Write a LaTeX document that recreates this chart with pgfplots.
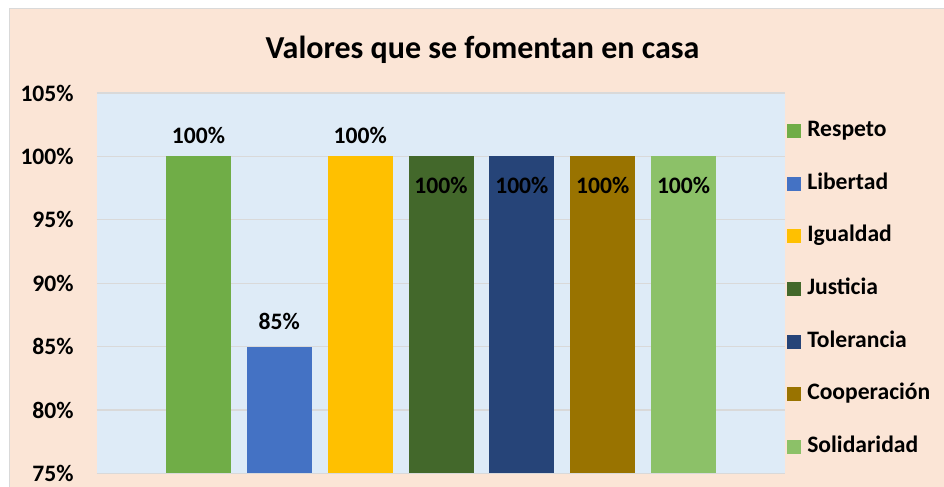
\documentclass[border=0pt]{standalone}
\usepackage{pgfplots}
\pgfplotsset{compat=1.18}
\usepackage{fontspec}
\setmainfont{Carlito}
\definecolor{cRes}{HTML}{70AD47}
\definecolor{cLib}{HTML}{4472C4}
\definecolor{cIgu}{HTML}{FFC000}
\definecolor{cJus}{HTML}{43682B}
\definecolor{cTol}{HTML}{264478}
\definecolor{cCoo}{HTML}{997300}
\definecolor{cSol}{HTML}{8CC168}
\definecolor{peach}{HTML}{FBE5D6}
\definecolor{plotbg}{HTML}{DEEBF7}
\definecolor{gridc}{HTML}{D9D9D9}
\begin{document}
\begin{tikzpicture}
\useasboundingbox (0pt,0pt) rectangle (472pt,243.5pt);
\fill[white] (0pt,0pt) rectangle (472pt,243.5pt);
\fill[peach] (5pt,0pt) rectangle (472pt,239pt);
\draw[gridc,line width=0.6pt] (4.9pt,0pt) -- (4.9pt,239.1pt) -- (472pt,239.1pt);
\node[font=\bfseries\fontsize{16}{19}\selectfont] at (241.25pt,218.5pt) {Valores que se fomentan en casa};
\begin{axis}[
  at={(48.5pt,6.75pt)}, anchor=south west,
  width=344pt, height=190.25pt, scale only axis,
  xmin=-0.255, xmax=8.255, ymin=75, ymax=105,
  ytick={75,80,...,105}, xtick=\empty,
  ymajorgrids, grid style={color=gridc, line width=0.6pt},
  axis background/.style={fill=plotbg},
  separate axis lines,
  x axis line style={draw=gridc, line width=0.6pt},
  y axis line style={draw=none},
  axis x line*=bottom, axis y line*=left,
  major tick length=0pt,
  /pgf/number format/assume math mode=true,
  yticklabel={\pgfmathprintnumber{\tick}\%},
  yticklabel style={font=\bfseries\fontsize{11.8}{14}\selectfont, inner sep=0pt, xshift=-11.5pt},
  ybar, bar width=32.5pt, bar shift=0pt,
  clip=false,
  nodes near coords={\pgfmathprintnumber{\pgfplotspointmeta}\%},
  every node near coord/.append style={font=\bfseries\fontsize{11.8}{14}\selectfont, text=black, inner sep=0pt, anchor=center},
  legend image code/.code={\fill[#1,draw=none] (0pt,-3.5pt) rectangle (7pt,3.5pt);},
  legend style={at={(0.994,0.939)}, anchor=north west, draw=none, fill=none,
    font=\bfseries\fontsize{11.8}{14}\selectfont,
    nodes={inner sep=0pt, text height=8pt, text depth=2.5pt},
    row sep=15.8pt, column sep=3pt},
  legend cell align=left,
]
\addplot[fill=cRes, draw=none, every node near coord/.append style={yshift=10.5pt}] coordinates {(1,100)};
\addplot[fill=cLib, draw=none, every node near coord/.append style={yshift=12.5pt}] coordinates {(2,85)};
\addplot[fill=cIgu, draw=none, every node near coord/.append style={yshift=10.5pt}] coordinates {(3,100)};
\addplot[fill=cJus, draw=none, every node near coord/.append style={yshift=-14.5pt}] coordinates {(4,100)};
\addplot[fill=cTol, draw=none, every node near coord/.append style={yshift=-14.5pt}] coordinates {(5,100)};
\addplot[fill=cCoo, draw=none, every node near coord/.append style={yshift=-14.5pt}] coordinates {(6,100)};
\addplot[fill=cSol, draw=none, every node near coord/.append style={yshift=-14.5pt}] coordinates {(7,100)};
\legend{Respeto,Libertad,Igualdad,Justicia,Tolerancia,Cooperación,Solidaridad}
\end{axis}
\end{tikzpicture}
\end{document}
